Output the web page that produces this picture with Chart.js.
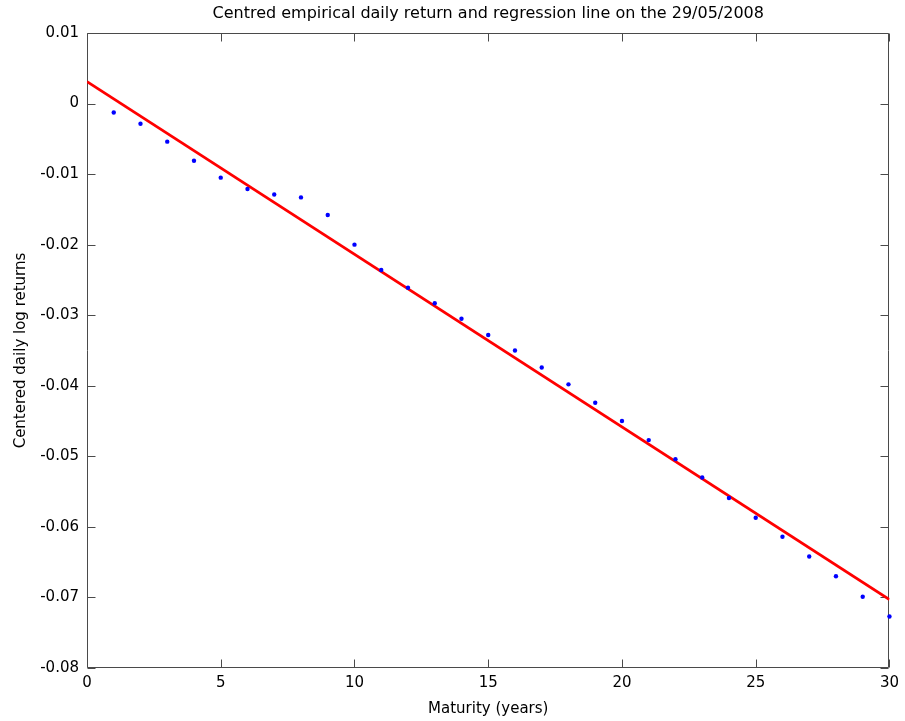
<!DOCTYPE html>
<html>
<head>
<meta charset="utf-8">
<script src="https://cdn.jsdelivr.net/npm/chart.js@4/dist/chart.umd.min.js"></script>
<style>
  html, body { margin: 0; padding: 0; background: #ffffff; }
  canvas { display: block; }
</style>
</head>
<body>
<canvas id="c" width="905" height="721"></canvas>
<script>
// ---- Data ----
const chartTitle = 'Centred empirical daily return and regression line on the 29/05/2008';
const xAxisLabel = 'Maturity (years)';
const yAxisLabel = 'Centered daily log returns';

const maturities = [1, 2, 3, 4, 5, 6, 7, 8, 9, 10,
                    11, 12, 13, 14, 15, 16, 17, 18, 19, 20,
                    21, 22, 23, 24, 25, 26, 27, 28, 29, 30];
const centredReturns = [-0.00126, -0.00286, -0.0054, -0.0081, -0.0105, -0.0121, -0.0129, -0.0133, -0.0158, -0.0200,
                        -0.0236, -0.0261, -0.0283, -0.0305, -0.0328, -0.0350, -0.0374, -0.0398, -0.0424, -0.0450,
                        -0.0477, -0.0504, -0.0530, -0.0559, -0.0587, -0.0614, -0.0642, -0.0670, -0.0699, -0.0727];

// regression line end points
const regressionX = [0, 30];
const regressionY = [0.0031, -0.0703];

const xTickMin = 0, xTickMax = 30, xTickStep = 5;
const yTickMin = -0.08, yTickMax = 0.01, yTickStep = 0.01;

// ---- Build library structures ----
const scatterPoints = maturities.map((m, i) => ({ x: m, y: centredReturns[i] }));
const regressionPoints = regressionX.map((x, i) => ({ x: x, y: regressionY[i] }));

const FONT = "'DejaVu Sans', Verdana, sans-serif";
const AXIS_COLOR = '#4a4a4a';
const TICK_LEN = 8;

// Title centred over the plot area (MATLAB style)
const titlePlugin = {
  id: 'centredTitle',
  afterDraw(chart) {
    const { ctx, chartArea: a } = chart;
    ctx.save();
    ctx.fillStyle = '#000000';
    ctx.font = "16px " + FONT;
    ctx.textAlign = 'center';
    ctx.textBaseline = 'middle';
    ctx.fillText(chartTitle, (a.left + a.right) / 2, 14);
    ctx.restore();
  }
};

// Draw MATLAB-style box with inward ticks on all four sides
const boxPlugin = {
  id: 'matlabBox',
  beforeDatasetsDraw(chart) {
    const { ctx, chartArea: a, scales } = chart;
    ctx.save();
    ctx.strokeStyle = AXIS_COLOR;
    ctx.lineWidth = 1;
    ctx.beginPath();
    const L = Math.round(a.left) + 0.5, R = Math.round(a.right) - 0.5;
    const T = Math.round(a.top) + 0.5, B = Math.round(a.bottom) - 0.5;
    ctx.rect(L, T, R - L, B - T);
    scales.x.ticks.forEach(t => {
      const px = Math.round(scales.x.getPixelForValue(t.value)) + 0.5;
      ctx.moveTo(px, B); ctx.lineTo(px, B - TICK_LEN);
      ctx.moveTo(px, T); ctx.lineTo(px, T + TICK_LEN);
    });
    scales.y.ticks.forEach(t => {
      const py = Math.round(scales.y.getPixelForValue(t.value)) + 0.5;
      ctx.moveTo(L, py); ctx.lineTo(L + TICK_LEN, py);
      ctx.moveTo(R, py); ctx.lineTo(R - TICK_LEN, py);
    });
    ctx.stroke();
    ctx.restore();
  }
};

new Chart(document.getElementById('c'), {
  type: 'scatter',
  data: {
    datasets: [
      {
        label: 'Centred empirical daily return',
        data: scatterPoints,
        showLine: false,
        clip: false,
        pointStyle: 'circle',
        pointRadius: 2.2,
        pointBorderWidth: 0,
        backgroundColor: '#0000ff',
        borderColor: '#0000ff'
      },
      {
        type: 'line',
        label: 'Regression line',
        data: regressionPoints,
        borderColor: '#ff0000',
        borderWidth: 2.8,
        pointRadius: 0,
        fill: false,
        tension: 0
      }
    ]
  },
  options: {
    responsive: false,
    animation: false,
    events: [],
    layout: { padding: { left: 0, right: 14, top: 33, bottom: 0 } },
    plugins: {
      legend: { display: false },
      tooltip: { enabled: false },
      title: { display: false }
    },
    scales: {
      x: {
        type: 'linear',
        min: xTickMin,
        max: xTickMax,
        grid: { display: false, drawTicks: false },
        border: { display: false },
        ticks: {
          stepSize: xTickStep,
          color: '#000000',
          font: { family: FONT, size: 15 },
          padding: 6,
          maxRotation: 0
        },
        title: {
          display: true,
          text: xAxisLabel,
          color: '#000000',
          font: { family: FONT, size: 15 },
          padding: { top: 0, bottom: 3 }
        },
        afterFit(scale) { scale.height = 53; }
      },
      y: {
        type: 'linear',
        min: yTickMin,
        max: yTickMax,
        grid: { display: false, drawTicks: false },
        border: { display: false },
        ticks: {
          stepSize: yTickStep,
          color: '#000000',
          font: { family: FONT, size: 15 },
          padding: 8,
          callback: v => {
            const r = Number(v.toFixed(2));
            return r === 0 ? '0' : String(r);
          }
        },
        title: {
          display: true,
          text: yAxisLabel,
          color: '#000000',
          font: { family: FONT, size: 15 },
          padding: { top: 12, bottom: 0 }
        },
        afterFit(scale) { scale.width = 87; }
      }
    }
  },
  plugins: [boxPlugin, titlePlugin]
});
</script>
</body>
</html>
